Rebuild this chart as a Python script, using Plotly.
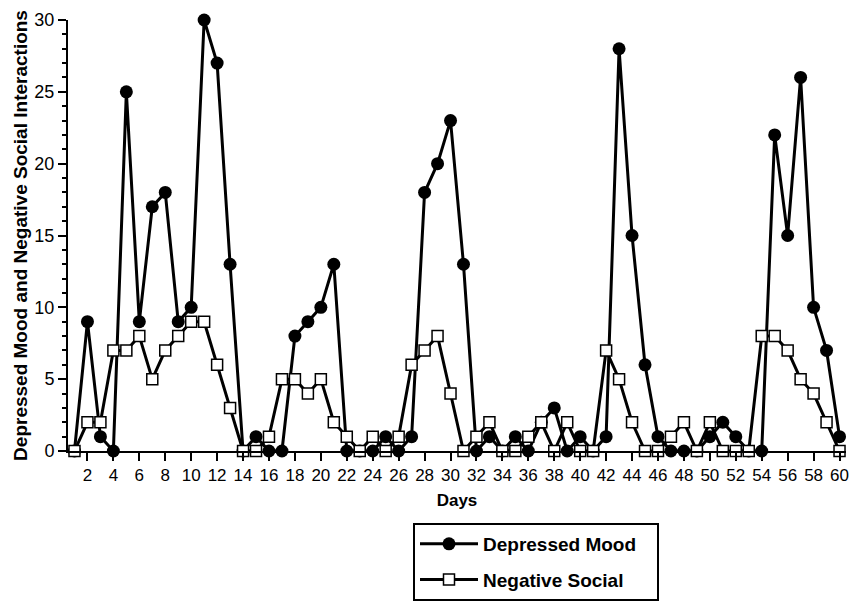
import plotly.graph_objects as go

days = list(range(1, 61))
depressed_mood = [0, 9, 1, 0, 25, 9, 17, 18, 9, 10,
                  30, 27, 13, 0, 1, 0, 0, 8, 9, 10,
                  13, 0, 0, 0, 1, 0, 1, 18, 20, 23,
                  13, 0, 1, 0, 1, 0, 2, 3, 0, 1,
                  0, 1, 28, 15, 6, 1, 0, 0, 0, 1,
                  2, 1, 0, 0, 22, 15, 26, 10, 7, 1]
negative_social = [0, 2, 2, 7, 7, 8, 5, 7, 8, 9,
                   9, 6, 3, 0, 0, 1, 5, 5, 4, 5,
                   2, 1, 0, 1, 0, 1, 6, 7, 8, 4,
                   0, 1, 2, 0, 0, 1, 2, 0, 2, 0,
                   0, 7, 5, 2, 0, 0, 1, 2, 0, 2,
                   0, 0, 0, 8, 8, 7, 5, 4, 2, 0]
x_tick_vals = list(range(2, 61, 2))
y_tick_vals = [0, 5, 10, 15, 20, 25, 30]

FONT = "Liberation Sans"

fig = go.Figure()
fig.add_trace(go.Scatter(
    x=days, y=depressed_mood, mode="lines+markers",
    name="<b>Depressed Mood</b>&nbsp;&nbsp;&nbsp;",
    legendgroup="a",
    line=dict(color="black", width=3),
    marker=dict(symbol="circle", size=13, color="black"),
    cliponaxis=False,
))
fig.add_trace(go.Scatter(
    x=days, y=negative_social, mode="lines+markers",
    name="<b>Negative Social</b>",
    legendgroup="b",
    line=dict(color="black", width=3),
    marker=dict(symbol="square", size=11, color="white",
                line=dict(color="black", width=1.5)),
    cliponaxis=False,
))

fig.update_layout(
    width=850, height=601,
    margin=dict(l=68, r=4, t=20, b=150, autoexpand=False),
    paper_bgcolor="white", plot_bgcolor="white",
    font=dict(family=FONT, color="black", size=16),
    showlegend=True,
    legend=dict(
        x=(413 - 68) / 778, xanchor="left",
        y=-(523 - 451) / 431, yanchor="top",
        bordercolor="black", borderwidth=2,
        font=dict(family=FONT, size=19, color="black"),
        itemwidth=58, tracegroupgap=8,
    ),
    xaxis=dict(
        range=[0.5, 60.5], tickmode="array", tickvals=x_tick_vals,
        ticks="outside", ticklen=8, tickwidth=2, tickcolor="black",
        showline=True, linecolor="black", linewidth=2,
        showgrid=False, zeroline=False,
        tickfont=dict(family=FONT, size=17, color="black"),
        title=dict(text="<b>Days</b>", font=dict(family=FONT, size=17), standoff=10),
        tickprefix="<b>", ticksuffix="</b>",
    ),
    yaxis=dict(
        range=[0, 30], tickmode="array", tickvals=y_tick_vals,
        ticks="outside", ticklen=8, tickwidth=2, tickcolor="black",
        minor=dict(dtick=1, ticks="outside", ticklen=4, tickwidth=1.5, tickcolor="black"),
        showline=True, linecolor="black", linewidth=2,
        showgrid=False, zeroline=False,
        tickfont=dict(family=FONT, size=18, color="black"),
        title=dict(text="<b>Depressed Mood and Negative Social Interactions</b>",
                   font=dict(family=FONT, size=19), standoff=2),
        tickprefix="<b>", ticksuffix="</b>",
    ),
)

fig.write_html(
    "out.html",
    config={"displayModeBar": False},
    post_script="document.body.style.margin='0px';document.body.style.overflow='hidden';",
)
